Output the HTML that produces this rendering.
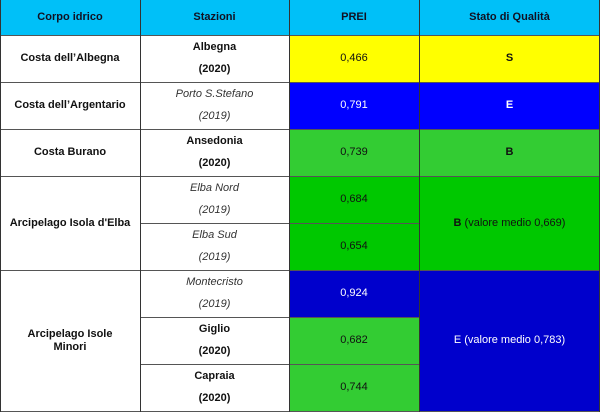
<!DOCTYPE html>
<html><head><meta charset="utf-8"><style>
body{margin:0;width:600px;height:415px;background:#fff;font-family:"Liberation Sans",Arial,sans-serif;font-size:11px;color:#111;position:relative;overflow:hidden}
.c{position:absolute;box-sizing:border-box;display:flex;flex-direction:column;align-items:center;justify-content:center;text-align:center;line-height:13px}
.b{font-weight:bold}
.i{font-style:italic;color:#333}
.two{justify-content:space-around;padding:2px 0}
.hl{position:absolute;height:1px;background:#555}
.vl{position:absolute;width:1px;background:#333}
</style></head><body>
<div class="c b" style="left:0;top:0;width:600px;height:35px;background:#00c0f8"></div>
<div class="c b" style="left:0;top:0;width:140px;height:35px;color:#112">Corpo idrico</div>
<div class="c b" style="left:140px;top:0;width:149px;height:35px;color:#112">Stazioni</div>
<div class="c b" style="left:289px;top:0;width:130px;height:35px;color:#112">PREI</div>
<div class="c b" style="left:419px;top:0;width:181px;height:35px;color:#112">Stato di Qualità</div>

<div class="c b" style="left:0;top:35px;width:140px;height:47px">Costa dell’Albegna</div>
<div class="c b" style="left:0;top:82px;width:140px;height:47px">Costa dell’Argentario</div>
<div class="c b" style="left:0;top:129px;width:140px;height:47px">Costa Burano</div>
<div class="c b" style="left:0;top:176px;width:140px;height:94px">Arcipelago Isola d'Elba</div>
<div class="c b" style="left:0;top:270px;width:140px;height:141px">Arcipelago Isole<br>Minori</div>

<div class="c b two" style="left:140px;top:35px;width:149px;height:47px"><span>Albegna</span><span>(2020)</span></div>
<div class="c i two" style="left:140px;top:82px;width:149px;height:47px"><span>Porto S.Stefano</span><span>(2019)</span></div>
<div class="c b two" style="left:140px;top:129px;width:149px;height:47px"><span>Ansedonia</span><span>(2020)</span></div>
<div class="c i two" style="left:140px;top:176px;width:149px;height:47px"><span>Elba Nord</span><span>(2019)</span></div>
<div class="c i two" style="left:140px;top:223px;width:149px;height:47px"><span>Elba Sud</span><span>(2019)</span></div>
<div class="c i two" style="left:140px;top:270px;width:149px;height:47px"><span>Montecristo</span><span>(2019)</span></div>
<div class="c b two" style="left:140px;top:317px;width:149px;height:47px"><span>Giglio</span><span>(2020)</span></div>
<div class="c b two" style="left:140px;top:364px;width:149px;height:47px"><span>Capraia</span><span>(2020)</span></div>

<div class="c" style="left:289px;top:35px;width:130px;height:47px;background:#ffff00">0,466</div>
<div class="c" style="left:289px;top:82px;width:130px;height:47px;background:#0000ff;color:#fff">0,791</div>
<div class="c" style="left:289px;top:129px;width:130px;height:47px;background:#33cc33">0,739</div>
<div class="c" style="left:289px;top:176px;width:130px;height:47px;background:#00c800">0,684</div>
<div class="c" style="left:289px;top:223px;width:130px;height:47px;background:#00c800">0,654</div>
<div class="c" style="left:289px;top:270px;width:130px;height:47px;background:#0000cc;color:#fff">0,924</div>
<div class="c" style="left:289px;top:317px;width:130px;height:47px;background:#33cc33">0,682</div>
<div class="c" style="left:289px;top:364px;width:130px;height:47px;background:#33cc33">0,744</div>

<div class="c b" style="left:419px;top:35px;width:181px;height:47px;background:#ffff00">S</div>
<div class="c b" style="left:419px;top:82px;width:181px;height:47px;background:#0000ff;color:#fff">E</div>
<div class="c b" style="left:419px;top:129px;width:181px;height:47px;background:#33cc33">B</div>
<div class="c" style="left:419px;top:176px;width:181px;height:94px;background:#00c800"><span><b>B</b> (valore medio 0,669)</span></div>
<div class="c" style="left:419px;top:270px;width:181px;height:141px;background:#0000cc;color:#fff">E (valore medio 0,783)</div>

<div class="hl" style="left:0;top:35px;width:600px"></div>
<div class="hl" style="left:0;top:82px;width:600px"></div>
<div class="hl" style="left:0;top:129px;width:600px"></div>
<div class="hl" style="left:0;top:176px;width:600px"></div>
<div class="hl" style="left:140px;top:223px;width:279px"></div>
<div class="hl" style="left:0;top:270px;width:600px"></div>
<div class="hl" style="left:140px;top:317px;width:279px"></div>
<div class="hl" style="left:140px;top:364px;width:279px"></div>
<div class="hl" style="left:0;top:411px;width:600px"></div>
<div class="vl" style="left:0;top:0;height:412px"></div>
<div class="vl" style="left:140px;top:0;height:412px"></div>
<div class="vl" style="left:289px;top:0;height:412px"></div>
<div class="vl" style="left:419px;top:0;height:412px"></div>
<div class="vl" style="left:599px;top:0;height:412px"></div>
</body></html>
